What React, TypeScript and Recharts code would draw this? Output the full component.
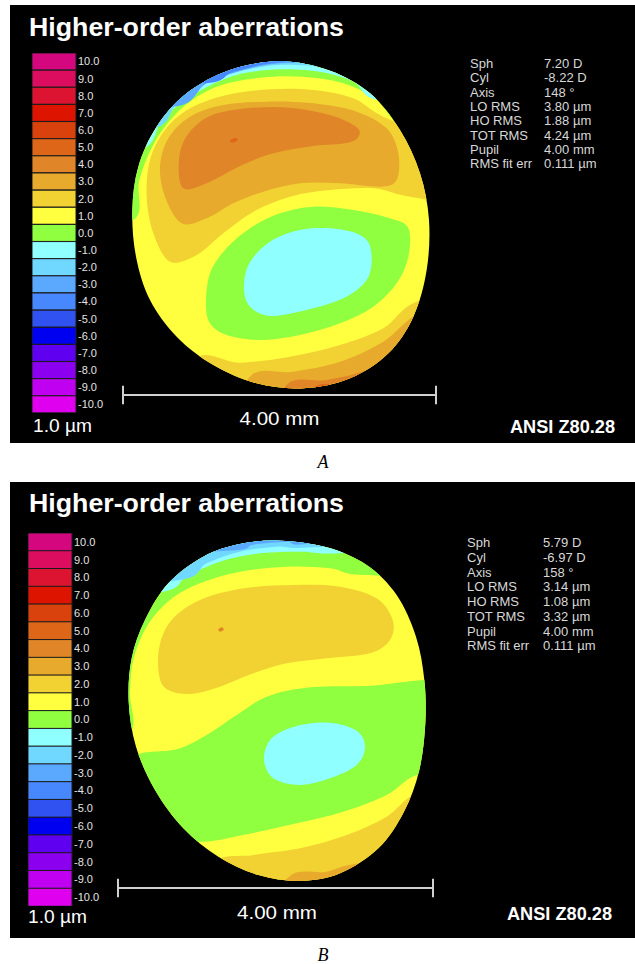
import React from "react";
import {
  ScatterChart,
  Scatter,
  XAxis,
  YAxis,
  ReferenceLine,
  BarChart,
  Bar,
  Cell,
} from "recharts";

// colour scale, µm per step
const scaleLabels = [
  "10.0", "9.0", "8.0", "7.0", "6.0", "5.0", "4.0", "3.0", "2.0", "1.0", "0.0",
  "-1.0", "-2.0", "-3.0", "-4.0", "-5.0", "-6.0", "-7.0", "-8.0", "-9.0", "-10.0",
];
const scaleColors = [
  "#d5077f", "#dc0d5f", "#dc1432", "#dc1400", "#d9420c", "#dd6618", "#e08628",
  "#e8aa2c", "#f2d232", "#ffff40", "#90ff40", "#90ffff", "#70d8ff", "#5aa8ff",
  "#4888ff", "#3052f0", "#0000f0", "#6000f0", "#8c00f0", "#c000f0", "#e000f0",
];
const levelColor = (label: string) => scaleColors[scaleLabels.indexOf(label)];

const statNames = ["Sph", "Cyl", "Axis", "LO RMS", "HO RMS", "TOT RMS", "Pupil", "RMS fit err"];
const statsA = ["7.20 D", "-8.22 D", "148 °", "3.80 µm", "1.88 µm", "4.24 µm", "4.00 mm", "0.111 µm"];
const statsB = ["5.79 D", "-6.97 D", "158 °", "3.14 µm", "1.08 µm", "3.32 µm", "4.00 mm", "0.111 µm"];

type Pt = [number, number];

// contour outlines in map grid units (about 235 per mm), y grows downwards

// ---- map A ----
const pupilA: Pt[] = [
  [540, 64], [690, 92], [810, 160], [900, 270], [960, 400], [987, 540], [980, 690],
  [940, 830], [865, 940], [750, 1015], [610, 1045], [470, 1030], [340, 975],
  [230, 890], [150, 780], [108, 650], [97, 510], [115, 380], [170, 260], [260, 160], [390, 90],
];
const aTopGreen: Pt[] = [
  [-100, 560], [100, 540], [118, 420], [165, 305], [245, 205], [350, 140], [480, 113],
  [610, 110], [730, 130], [830, 180], [910, 260], [1100, 300], [1100, -100], [-100, -100],
];
const aTopCyan: Pt[] = [
  [-100, 360], [125, 330], [190, 235], [290, 158], [410, 105], [540, 88], [660, 95],
  [760, 125], [840, 180], [1100, 150], [1100, -100], [-100, -100],
];
const aTopSky: Pt[] = [
  [-100, 250], [160, 265], [235, 185], [340, 120], [460, 85], [560, 74], [680, 84],
  [780, 115], [1100, 100], [1100, -100], [-100, -100],
];
const aTopBlue: Pt[] = [
  [-100, 150], [220, 200], [320, 130], [430, 90], [540, 70], [660, 72], [760, 95],
  [1100, 50], [1100, -100], [-100, -100],
];
const aTopBlue2: Pt[] = [
  [-100, 100], [300, 130], [400, 95], [500, 72], [600, 64], [700, 70], [1100, 0],
  [1100, -100], [-100, -100],
];
const aUpperGold: Pt[] = [
  [210, 665], [160, 580], [140, 470], [150, 360], [195, 270], [270, 205], [380, 165],
  [510, 148], [640, 150], [760, 175], [860, 235], [1100, 330], [1100, 480], [930, 470],
  [820, 445], [690, 450], [570, 470], [460, 515], [370, 580], [290, 645],
];
const aUpperAmber: Pt[] = [
  [245, 550], [195, 470], [180, 380], [205, 295], [270, 230], [370, 195], [500, 185],
  [640, 190], [770, 215], [860, 265], [895, 340], [890, 420], [840, 440], [720, 430],
  [600, 430], [490, 455], [400, 490], [320, 535],
];
const aUpperOrange: Pt[] = [
  [250, 445], [237, 360], [262, 285], [330, 228], [440, 205], [570, 203], [690, 225],
  [765, 258], [778, 285], [745, 308], [640, 318], [520, 340], [420, 378], [330, 425],
];
const aSpot: Pt[] = [[390, 302], [405, 294], [414, 300], [398, 308]];
const aGreen: Pt[] = [
  [318, 790], [330, 700], [375, 630], [450, 565], [540, 520], [640, 500], [760, 510],
  [870, 535], [925, 565], [925, 650], [890, 730], [820, 800], [720, 850], [600, 885],
  [480, 900], [380, 885], [330, 850],
];
const aCyan: Pt[] = [
  [432, 745], [448, 670], [510, 605], [610, 568], [720, 568], [795, 595], [815, 650],
  [800, 720], [730, 775], [620, 810], [510, 828], [450, 800],
];
const aLowGold: Pt[] = [
  [180, 1200], [280, 960], [420, 968], [570, 950], [720, 915], [850, 865], [940, 790],
  [1100, 760], [1100, 1200],
];
const aLowAmber: Pt[] = [
  [400, 1200], [450, 1010], [580, 995], [720, 965], [850, 905], [960, 820], [1100, 820], [1100, 1200],
];
const aLowOrange: Pt[] = [
  [520, 1200], [560, 1035], [680, 1020], [800, 990], [900, 930], [1100, 900], [1100, 1200],
];
const aLowRed: Pt[] = [
  [600, 1200], [640, 1045], [740, 1035], [850, 1000], [1100, 1000], [1100, 1200],
];

const layersA: [string, Pt[]][] = [
  ["0.0", aTopGreen], ["-1.0", aTopCyan], ["-2.0", aTopSky], ["-3.0", aTopBlue], ["-4.0", aTopBlue2],
  ["2.0", aUpperGold], ["3.0", aUpperAmber], ["4.0", aUpperOrange], ["5.0", aSpot],
  ["0.0", aGreen], ["-1.0", aCyan],
  ["2.0", aLowGold], ["3.0", aLowAmber], ["4.0", aLowOrange], ["5.0", aLowRed],
];

// ---- map B ----
const pupilB: Pt[] = [
  [540, 62], [680, 82], [800, 135], [890, 225], [948, 350], [973, 480], [976, 610],
  [958, 750], [912, 875], [835, 985], [720, 1060], [600, 1083], [475, 1065], [355, 1010],
  [250, 925], [165, 810], [108, 680], [86, 545], [95, 415], [135, 300], [205, 190], [310, 110], [420, 72],
];
const bTopGreen: Pt[] = [
  [-100, 650], [86, 640], [90, 520], [100, 420], [140, 320], [210, 240], [300, 190],
  [420, 155], [560, 140], [690, 145], [790, 165], [1100, 150], [1100, -100], [-100, -100],
];
const bTopCyan: Pt[] = [
  [-100, 250], [190, 215], [260, 170], [360, 125], [480, 100], [600, 95], [720, 100],
  [1100, 80], [1100, -100], [-100, -100],
];
const bTopSky: Pt[] = [
  [-100, 180], [240, 180], [320, 130], [420, 95], [530, 80], [640, 82], [1100, 40],
  [1100, -100], [-100, -100],
];
const bTopBlue: Pt[] = [
  [-100, 100], [380, 92], [460, 74], [560, 66], [640, 70], [1100, 0], [1100, -100], [-100, -100],
];
const bUpperGold: Pt[] = [
  [178, 470], [178, 380], [215, 300], [300, 240], [430, 205], [580, 195], [720, 200],
  [830, 235], [878, 300], [870, 360], [810, 400], [680, 415], [560, 430], [460, 460],
  [360, 500], [270, 522], [205, 510],
];
const bSpot: Pt[] = [[355, 328], [366, 322], [371, 330], [360, 335]];
const bGreen: Pt[] = [
  [112, 705], [230, 688], [320, 645], [410, 585], [500, 530], [620, 503], [800, 498],
  [1100, 495], [1100, 740], [950, 765], [860, 825], [730, 875], [580, 912], [430, 945],
  [300, 965], [210, 930], [150, 850], [118, 770],
];
const bCyan: Pt[] = [
  [492, 718], [515, 655], [590, 618], [690, 608], [770, 632], [795, 680], [770, 735],
  [690, 775], [600, 795], [520, 775],
];
const bLowGold: Pt[] = [
  [250, 1200], [340, 1030], [460, 1005], [600, 985], [740, 945], [860, 890], [950, 820],
  [1100, 800], [1100, 1200],
];
const bLowAmber: Pt[] = [
  [520, 1200], [570, 1068], [680, 1055], [780, 1030], [1100, 1000], [1100, 1200],
];

const layersB: [string, Pt[]][] = [
  ["0.0", bTopGreen], ["-1.0", bTopCyan], ["-2.0", bTopSky], ["-3.0", bTopBlue],
  ["2.0", bUpperGold], ["4.0", bSpot],
  ["0.0", bGreen], ["-1.0", bCyan],
  ["2.0", bLowGold], ["3.0", bLowAmber],
];

// 4.00 mm scale bar ends, same grid units
const barA = { from: 69, to: 1008, at: 1065 };
const barB = { from: 54, to: 999, at: 1104 };

const toRows = (pts: Pt[]) => pts.map(([x, y]) => ({ x, y }));

// closed catmull-rom through the projected points
function smoothClosed(points: { x: number; y: number }[]) {
  const n = points.length;
  let d = `M${points[0].x},${points[0].y}`;
  for (let i = 0; i < n; i++) {
    const p0 = points[(i - 1 + n) % n];
    const p1 = points[i];
    const p2 = points[(i + 1) % n];
    const p3 = points[(i + 2) % n];
    const c1x = p1.x + (p2.x - p0.x) / 6;
    const c1y = p1.y + (p2.y - p0.y) / 6;
    const c2x = p2.x - (p3.x - p1.x) / 6;
    const c2y = p2.y - (p3.y - p1.y) / 6;
    d += ` C${c1x},${c1y} ${c2x},${c2y} ${p2.x},${p2.y}`;
  }
  return d + "Z";
}

const noDot = () => <g />;
const sans = "'Liberation Sans', Arial, sans-serif";

function ContourMap({ id, width, height, xDomain, yDomain, pupil, layers, bar }: any) {
  const clip = `pupil-${id}`;
  const tickHalf = 28;
  return (
    <ScatterChart width={width} height={height} margin={{ top: 0, right: 0, bottom: 0, left: 0 }}>
      <XAxis type="number" dataKey="x" domain={xDomain} hide allowDataOverflow />
      <YAxis type="number" dataKey="y" domain={yDomain} reversed hide allowDataOverflow />
      <Scatter
        data={toRows(pupil)}
        shape={noDot}
        isAnimationActive={false}
        line={(p: any) => {
          const d = smoothClosed(p.points);
          return (
            <g>
              <defs>
                <clipPath id={clip}>
                  <path d={d} />
                </clipPath>
              </defs>
              <path d={d} fill={levelColor("1.0")} stroke="none" />
            </g>
          );
        }}
      />
      {layers.map(([lvl, pts]: [string, Pt[]], i: number) => (
        <Scatter
          key={i}
          data={toRows(pts)}
          shape={noDot}
          isAnimationActive={false}
          line={(p: any) => (
            <path
              d={smoothClosed(p.points)}
              fill={levelColor(lvl)}
              stroke="none"
              clipPath={`url(#${clip})`}
            />
          )}
        />
      ))}
      <ReferenceLine
        segment={[{ x: bar.from, y: bar.at }, { x: bar.to, y: bar.at }]}
        stroke="#d0d0d0"
        strokeWidth={2}
      />
      <ReferenceLine
        segment={[{ x: bar.from, y: bar.at - tickHalf }, { x: bar.from, y: bar.at + tickHalf }]}
        stroke="#d0d0d0"
        strokeWidth={2}
      />
      <ReferenceLine
        segment={[{ x: bar.to, y: bar.at - tickHalf }, { x: bar.to, y: bar.at + tickHalf }]}
        stroke="#d0d0d0"
        strokeWidth={2}
      />
    </ScatterChart>
  );
}

function ColourScale({ height }: { height: number }) {
  const rows = scaleLabels.map((label) => ({ label, v: 1 }));
  return (
    <BarChart
      layout="vertical"
      width={80}
      height={height}
      data={rows}
      margin={{ top: 0, right: 0, bottom: 0, left: 0 }}
      barCategoryGap={0}
    >
      <XAxis type="number" domain={[0, 1]} hide />
      <YAxis
        type="category"
        dataKey="label"
        orientation="right"
        width={36}
        axisLine={false}
        tickLine={false}
        tickSize={0}
        tickMargin={2}
        interval={0}
        tick={{ fill: "#e4e4e4", fontSize: 11, fontFamily: sans }}
      />
      <Bar dataKey="v" isAnimationActive={false} stroke="#1c1c1c" strokeWidth={1}>
        {scaleColors.map((c, i) => (
          <Cell key={i} fill={c} />
        ))}
      </Bar>
    </BarChart>
  );
}

function Panel({ cfg, stats, pupil, layers, bar }: any) {
  return (
    <div
      style={{
        position: "absolute",
        left: 10,
        top: cfg.top,
        width: 625,
        height: cfg.height,
        background: "#000",
      }}
    >
      <div style={{ position: "absolute", left: 0, top: 0 }}>
        <ContourMap
          id={cfg.id}
          width={625}
          height={cfg.height}
          xDomain={cfg.xDomain}
          yDomain={cfg.yDomain}
          pupil={pupil}
          layers={layers}
          bar={bar}
        />
      </div>
      <div style={{ position: "absolute", left: cfg.legendX, top: cfg.legendY }}>
        <ColourScale height={cfg.legendH} />
      </div>
      <svg
        width={625}
        height={cfg.height}
        style={{ position: "absolute", left: 0, top: 0, pointerEvents: "none" }}
      >
        <text
          x={19}
          y={cfg.titleY}
          fill="#fff"
          fontFamily={sans}
          fontWeight="bold"
          fontSize={25}
          textLength={315}
          lengthAdjust="spacingAndGlyphs"
        >
          Higher-order aberrations
        </text>
        {statNames.map((n, i) => (
          <g key={n} fontFamily={sans} fontSize={13} fill="#d8d8d8">
            <text x={cfg.statX} y={cfg.statY + i * cfg.statStep}>{n}</text>
            <text x={cfg.valX} y={cfg.statY + i * cfg.statStep}>{stats[i]}</text>
          </g>
        ))}
        <text x={cfg.unitX} y={cfg.unitY} fill="#fff" fontFamily={sans} fontSize={19} textLength={59} lengthAdjust="spacingAndGlyphs">
          1.0 µm
        </text>
        <text x={cfg.mmX} y={cfg.mmY} fill="#fff" fontFamily={sans} fontSize={19} textAnchor="middle" textLength={80} lengthAdjust="spacingAndGlyphs">
          4.00 mm
        </text>
        <text x={cfg.ansiX} y={cfg.ansiY} fill="#fff" fontFamily={sans} fontWeight="bold" fontSize={18} textAnchor="end" textLength={105} lengthAdjust="spacingAndGlyphs">
          ANSI Z80.28
        </text>
      </svg>
    </div>
  );
}

const cfgA = {
  id: "a", top: 5, height: 438, xDomain: [-270, 1605], yDomain: [-105, 1209],
  titleY: 31, legendX: 22, legendY: 48, legendH: 360,
  statX: 460, valX: 534, statY: 63, statStep: 14.3,
  unitX: 23, unitY: 427, mmX: 269.5, mmY: 420, ansiX: 605, ansiY: 428,
};
const cfgB = {
  id: "b", top: 482, height: 456, xDomain: [-270, 1605], yDomain: [-114, 1254],
  titleY: 30, legendX: 18, legendY: 51, legendH: 373,
  statX: 457, valX: 533, statY: 65, statStep: 14.76,
  unitX: 18, unitY: 441, mmX: 267, mmY: 437, ansiX: 602, ansiY: 438,
};

export default function App() {
  return (
    <div style={{ position: "absolute", left: 0, top: 0, width: 635, height: 964, background: "#fff" }}>
      <Panel cfg={cfgA} stats={statsA} pupil={pupilA} layers={layersA} bar={barA} />
      <Panel cfg={cfgB} stats={statsB} pupil={pupilB} layers={layersB} bar={barB} />
      <svg width={635} height={964} style={{ position: "absolute", left: 0, top: 0, pointerEvents: "none" }}>
        <text x={323} y={468} textAnchor="middle" fontFamily="'Liberation Serif', 'Times New Roman', serif" fontStyle="italic" fontSize={18} fill="#000">
          A
        </text>
        <text x={323} y={961} textAnchor="middle" fontFamily="'Liberation Serif', 'Times New Roman', serif" fontStyle="italic" fontSize={18} fill="#000">
          B
        </text>
      </svg>
    </div>
  );
}
